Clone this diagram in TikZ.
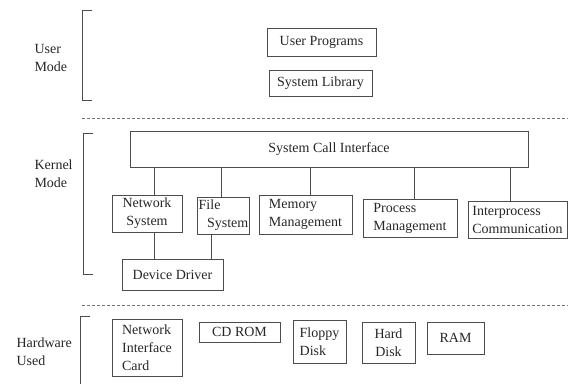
\documentclass[tikz,border=0pt]{standalone}
\usepackage{fontspec}
\setmainfont{Liberation Serif}
\usetikzlibrary{shapes}
\usetikzlibrary{arrows}
\usetikzlibrary{positioning}

\begin{document}
\begin{tikzpicture}[x=1pt,y=-1pt]
\tikzstyle{box}=[
        draw=black!70,
        rectangle,
        inner sep=0pt,
        inner xsep=3pt,
        align=left,
        text=black!85,
        font=\fontsize{14}{18}\selectfont
]
\tikzstyle{mode}=[align=left,anchor=west,text=black!85,font=\fontsize{14}{18}\selectfont]
\tikzstyle{link}=[draw=black!70,line width=0.8pt]
\tikzstyle{sep}=[draw=black!55,line width=1pt,dash pattern=on 3pt off 2pt]
\tikzstyle{brace}=[draw=black!70,line width=0.9pt]
\useasboundingbox (0,0) rectangle (568,384);
%modes
\node[mode] (user) at (31,58) {User\\Mode};
\node[mode] (kernel) at (31,174) {Kernel\\Mode};
\node[mode] (hw) at (13,352) {Hardware\\Used};
\draw[brace] (92,10) -- (82,10) -- (82,100) -- (92,100);
\draw[brace] (93,133) -- (83,133) -- (83,274) -- (93,274);
\draw[brace] (90,316) -- (80,316) -- (80,384);
\draw[sep] (82,118) -- (568,118);
\draw[sep] (82,305) -- (568,305);
%placementdesnœuds
\node[box,minimum width=109pt,minimum height=28pt] (userprog) at (321.5,42) {User Programs};
\node[box,minimum width=103pt,minimum height=26pt] (syslib) at (320.5,83) {System Library};
\node[box,align=center,minimum width=398pt,minimum height=36pt] (sci) at (329,149) {System Call Interface};
\node[box,align=center,minimum width=70pt,minimum height=37pt] (netsys) at (147,213.5) {Network\\System};
\node[box,minimum width=51pt,minimum height=37pt,inner xsep=1pt] (filesys) at (223.5,215.5) {File\\\hspace{0.6em}System};
\node[box,minimum width=93pt,minimum height=39pt] (memmgmt) at (305.5,214.5) {Memory\\Management};
\node[box,minimum width=94pt,minimum height=38pt,inner xsep=6pt] (procmgmt) at (410,218) {Process\\Management};
\node[box,minimum width=99pt,minimum height=37pt] (ipc) at (517.5,219.5) {Interprocess\\Communication};
\node[box,minimum width=101pt,minimum height=31pt,inner xsep=7pt] (devdrv) at (172.5,274.5) {Device Driver};
\node[box,minimum width=70pt,minimum height=57pt] (nic) at (147,347.5) {Network\\Interface\\Card};
\node[box,align=center,minimum width=81pt,minimum height=20pt] (cdrom) at (239.5,332) {CD ROM};
\node[box,minimum width=53pt,minimum height=43pt] (floppy) at (319.5,341.5) {Floppy\\Disk};
\node[box,align=center,minimum width=53pt,minimum height=41pt] (harddisk) at (388.5,342.5) {Hard\\Disk};
\node[box,align=center,minimum width=57pt,minimum height=32pt] (ram) at (455.5,338) {RAM};
%Placementdesliens
\draw[link] ([xshift=7pt]netsys.north) -- ([xshift=7pt]netsys.north |- sci.south);
\draw[link] ([xshift=-2.5pt]filesys.north) -- ([xshift=-2.5pt]filesys.north |- sci.south);
\draw[link] ([xshift=4.5pt]memmgmt.north) -- ([xshift=4.5pt]memmgmt.north |- sci.south);
\draw[link] ([xshift=4pt]procmgmt.north) -- ([xshift=4pt]procmgmt.north |- sci.south);
\draw[link] ([xshift=-7.5pt]ipc.north) -- ([xshift=-7.5pt]ipc.north |- sci.south);
\draw[link] ([xshift=7pt]netsys.south) -- ([xshift=7pt]netsys.south |- devdrv.north);
\draw[link] ([xshift=-12.5pt]filesys.south) -- ([xshift=-12.5pt]filesys.south |- devdrv.north);
\end{tikzpicture}
\end{document}
